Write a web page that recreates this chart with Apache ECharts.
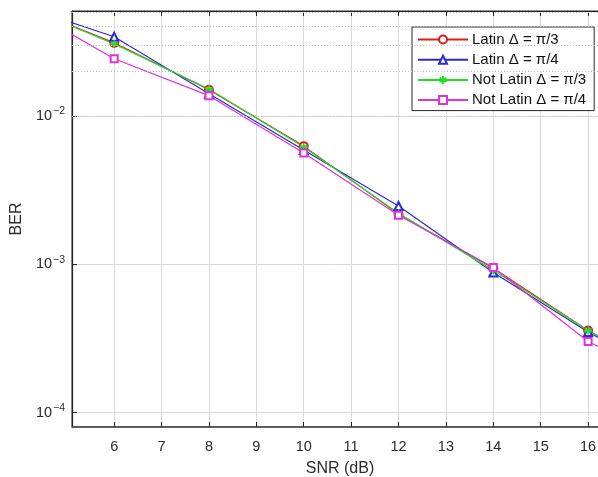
<!DOCTYPE html>
<html>
<head>
<meta charset="utf-8">
<script src="https://cdn.jsdelivr.net/npm/echarts@6/dist/echarts.min.js"></script>
<style>
  html, body { margin: 0; padding: 0; background: #fff; }
  #chart { width: 598px; height: 477px; }
</style>
</head>
<body>
<div id="chart"></div>
<script>
// SNR sample points (dB)
const snr = [4, 6, 8, 10, 12, 14, 16, 18];

// Bit error rate for each configuration
const latinPi3    = [0.0566, 0.0311, 0.0150, 0.00626, 0.00218, 0.00094, 0.000358, 0.000160];
const latinPi4    = [0.0560, 0.0342, 0.0141, 0.00589, 0.00247, 0.00088, 0.000350, 0.000155];
const notLatinPi3 = [0.0566, 0.0306, 0.0152, 0.00617, 0.00221, 0.00091, 0.000358, 0.000160];
const notLatinPi4 = [0.0565, 0.0243, 0.0137, 0.00562, 0.00214, 0.00095, 0.000302, 0.000145];

const seriesNames = ['Latin \u0394 = \u03c0/3', 'Latin \u0394 = \u03c0/4', 'Not Latin \u0394 = \u03c0/3', 'Not Latin \u0394 = \u03c0/4'];

// Axis ranges
const xMin = 5.11, xMax = 16.42;
const yMin = 8.0e-5, yMax = 0.051;

// Minor (dotted) grid values on the log axis: 2..9 x each decade
const minorMultipliers = [2, 3, 4, 5, 6, 7, 8, 9];
const decades = [1e-5, 1e-4, 1e-3, 1e-2];

const minorGrid = [];
decades.forEach(d => minorMultipliers.forEach(m => {
  const v = m * d;
  if (v > yMin && v < yMax) minorGrid.push(v);
}));

const font = '"Liberation Sans", Arial, Helvetica, sans-serif';
const textColor = '#2b2b2b';

// stroked asterisk marker
const asterisk = 'path://M5,0L5,10M0.7,2.5L9.3,7.5M0.7,7.5L9.3,2.5M0,5L10,5';

function pairs(ys) { return snr.map((x, i) => [x, ys[i]]); }

function lineSeries(name, ys, color, symbol, extra) {
  return Object.assign({
    name: name,
    type: 'line',
    data: pairs(ys),
    symbol: symbol,
    symbolSize: 8,
    showAllSymbol: true,
    clip: true,
    color: color,
    lineStyle: { color: color, width: 1.2 },
    itemStyle: { color: color, borderWidth: 1.2 },
    emphasis: { disabled: true },
    animation: false,
    z: 3
  }, extra || {});
}

const chart = echarts.init(document.getElementById('chart'), null, { renderer: 'canvas' });

chart.setOption({
  backgroundColor: '#fff',
  textStyle: { fontFamily: font },
  grid: {
    left: 72, top: 11, right: -10, bottom: 50,
    outerBoundsMode: 'none',
    containLabel: false,
    show: true, borderColor: '#262626', borderWidth: 1, backgroundColor: '#fff'
  },
  legend: {
    data: seriesNames,
    orient: 'vertical',
    left: 412, top: 27,
    padding: [5, 8, 3, 5],
    itemWidth: 50, itemHeight: 10, itemGap: 5.2,
    backgroundColor: '#fff',
    borderColor: '#262626', borderWidth: 1,
    textStyle: { fontFamily: font, fontSize: 15, lineHeight: 14, color: '#111', padding: [0, 0, 0, -1] }
  },
  xAxis: [{
    type: 'value',
    min: xMin, max: xMax,
    splitNumber: 10,
    name: 'SNR (dB)',
    nameLocation: 'middle',
    nameGap: 34,
    nameTextStyle: { fontFamily: font, fontSize: 16, color: textColor },
    axisLine: { show: true, lineStyle: { color: '#404040', width: 1.6 } },
    axisTick: { show: true, inside: true, length: 5, lineStyle: { color: '#262626' } },
    axisLabel: {
      margin: 12, fontFamily: font, fontSize: 14.5, color: textColor,
      showMinLabel: false, showMaxLabel: false,
      formatter: v => (Math.abs(v - Math.round(v)) < 1e-6 ? String(Math.round(v)) : '')
    },
    splitLine: { show: true, lineStyle: { color: '#dadada', width: 1 } }
  }, {
    type: 'value',
    position: 'top',
    min: xMin, max: xMax,
    splitNumber: 10,
    axisLine: { show: true, lineStyle: { color: '#262626', width: 1 } },
    axisTick: { show: true, inside: true, length: 5, lineStyle: { color: '#262626' } },
    axisLabel: { show: false },
    splitLine: { show: false }
  }],
  yAxis: {
    type: 'log',
    logBase: 10,
    min: yMin, max: yMax,
    name: 'BER',
    nameLocation: 'middle',
    nameGap: 46,
    nameTextStyle: { fontFamily: font, fontSize: 16, color: textColor },
    axisLine: { show: true, lineStyle: { color: '#262626', width: 1.2 } },
    axisTick: { show: true, inside: true, length: 5, lineStyle: { color: '#262626' } },
    axisLabel: {
      margin: 7, fontFamily: font, fontSize: 14.5, color: textColor,
      showMinLabel: false, showMaxLabel: false,
      formatter: v => {
        const e = Math.log10(v);
        if (Math.abs(e - Math.round(e)) > 1e-6) return '';
        return '10{sup|\u2212' + Math.abs(Math.round(e)) + '}';
      },
      rich: {
        sup: { fontSize: 10.5, color: textColor, fontFamily: font, verticalAlign: 'bottom', padding: [0, 0, 9, 1] }
      }
    },
    splitLine: { show: true, lineStyle: { color: '#dadada', width: 1 } }
  },
  series: [
    {
      name: 'minor-grid',
      type: 'line',
      data: [],
      z: 1,
      silent: true,
      animation: false,
      markLine: {
        silent: true,
        animation: false,
        symbol: ['none', 'none'],
        label: { show: false },
        lineStyle: { color: '#c2c2c2', type: [1, 2], width: 1 },
        emphasis: { disabled: true },
        data: minorGrid.map(v => ({ yAxis: v }))
      }
    },
    lineSeries(seriesNames[0], latinPi3, '#e31a1c', 'emptyCircle'),
    lineSeries(seriesNames[1], latinPi4, '#2b2bd0', 'emptyTriangle'),
    lineSeries(seriesNames[2], notLatinPi3, '#22dd22', asterisk, { itemStyle: { color: 'none', borderColor: '#22dd22', borderWidth: 1.4 } }),
    lineSeries(seriesNames[3], notLatinPi4, '#dd33dd', 'emptyRect', { symbolSize: 7 })
  ]
});
</script>
</body>
</html>
